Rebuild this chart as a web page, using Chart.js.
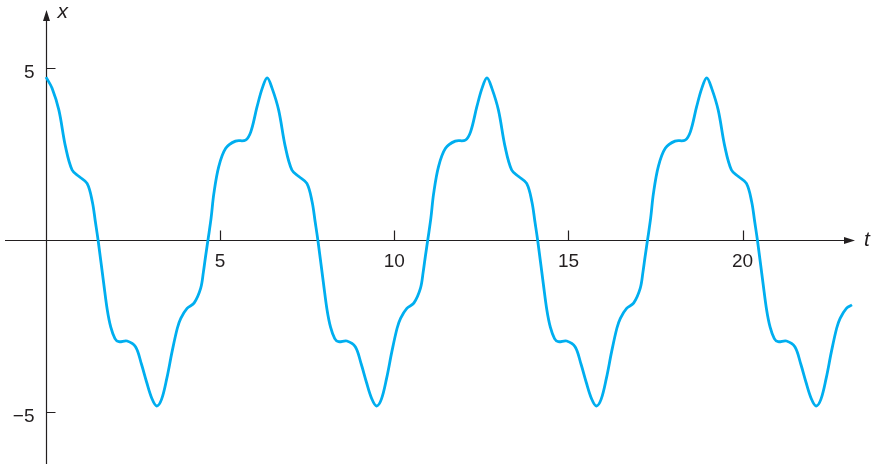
<!DOCTYPE html>
<html>
<head>
<meta charset="utf-8">
<script src="https://cdn.jsdelivr.net/npm/chart.js@4"></script>
<style>
  html, body { margin: 0; padding: 0; background: #fff; }
  canvas { display: block; }
</style>
</head>
<body>
<canvas id="chart" width="875" height="468"></canvas>
<script>
// Readings of the curve, one row per period
const tValues = [
    0, 0.175, 0.37, 0.56, 0.75, 0.95, 1.18, 1.33, 1.42, 1.50, 1.66, 1.76, 1.86, 1.98, 2.09, 2.33, 2.57, 2.74, 2.89, 3.04,
    3.18, 3.32, 3.47, 3.62, 3.77, 3.87, 4.05, 4.25, 4.44, 4.52, 4.58, 4.66, 4.74, 4.82, 4.96, 5.16, 5.44, 5.73, 5.88, 6.06, 6.21,
    6.35, 6.49, 6.68, 6.87, 7.06, 7.26, 7.49, 7.64, 7.73, 7.81, 7.97, 8.07, 8.17, 8.29, 8.40, 8.64, 8.88, 9.05, 9.20, 9.35,
    9.49, 9.63, 9.78, 9.93, 10.08, 10.18, 10.36, 10.56, 10.75, 10.83, 10.89, 10.97, 11.05, 11.13, 11.27, 11.47, 11.75, 12.04, 12.19, 12.37, 12.52,
    12.66, 12.80, 12.99, 13.18, 13.37, 13.57, 13.80, 13.95, 14.04, 14.12, 14.28, 14.38, 14.48, 14.60, 14.71, 14.95, 15.19, 15.36, 15.51, 15.66,
    15.80, 15.94, 16.09, 16.24, 16.39, 16.49, 16.67, 16.87, 17.06, 17.14, 17.20, 17.28, 17.36, 17.44, 17.58, 17.78, 18.06, 18.35, 18.50, 18.68, 18.83,
    18.97, 19.11, 19.30, 19.49, 19.68, 19.88, 20.11, 20.26, 20.35, 20.43, 20.59, 20.69, 20.79, 20.91, 21.02, 21.26, 21.50, 21.67, 21.82, 21.97,
    22.11, 22.25, 22.40, 22.55, 22.70, 22.80, 22.98, 23.14
];
const xValues = [
    4.72, 4.40, 3.76, 2.70, 2.02, 1.83, 1.63, 1.10, 0.50, -0.05, -1.30, -2.05, -2.55, -2.88, -2.97, -2.95, -3.12, -3.62, -4.15, -4.62,
    -4.84, -4.64, -4.03, -3.26, -2.58, -2.29, -2.00, -1.85, -1.42, -0.94, -0.50, 0.05, 0.62, 1.34, 2.12, 2.65, 2.86, 2.89, 3.13, 3.86, 4.40,
    4.70, 4.40, 3.76, 2.70, 2.02, 1.83, 1.63, 1.10, 0.50, -0.05, -1.30, -2.05, -2.55, -2.88, -2.97, -2.95, -3.12, -3.62, -4.15, -4.62,
    -4.84, -4.64, -4.03, -3.26, -2.58, -2.29, -2.00, -1.85, -1.42, -0.94, -0.50, 0.05, 0.62, 1.34, 2.12, 2.65, 2.86, 2.89, 3.13, 3.86, 4.40,
    4.70, 4.40, 3.76, 2.70, 2.02, 1.83, 1.63, 1.10, 0.50, -0.05, -1.30, -2.05, -2.55, -2.88, -2.97, -2.95, -3.12, -3.62, -4.15, -4.62,
    -4.84, -4.64, -4.03, -3.26, -2.58, -2.29, -2.00, -1.85, -1.42, -0.94, -0.50, 0.05, 0.62, 1.34, 2.12, 2.65, 2.86, 2.89, 3.13, 3.86, 4.40,
    4.70, 4.40, 3.76, 2.70, 2.02, 1.83, 1.63, 1.10, 0.50, -0.05, -1.30, -2.05, -2.55, -2.88, -2.97, -2.95, -3.12, -3.62, -4.15, -4.62,
    -4.84, -4.64, -4.03, -3.26, -2.58, -2.29, -2.00, -1.90
];
const tTicks = [5, 10, 15, 20];
const xTicks = [-5, 5];

const axisColor = '#231f20';
const curveColor = '#00aeef';

// minus sign as in the print, not a hyphen
const formatTick = (v) => (v < 0 ? '\u2212' + Math.abs(v) : String(v));

// Axes through the origin with arrowheads, ticks on the inner side
const axesPlugin = {
    id: 'arrowAxes',
    beforeDatasetsDraw(chart) {
        const { ctx, chartArea: area, scales } = chart;
        const xs = scales.x;
        const ys = scales.y;
        const ox = Math.round(xs.getPixelForValue(0)) + 0.5;
        const oy = Math.round(ys.getPixelForValue(0)) + 0.5;

        ctx.save();
        ctx.strokeStyle = axisColor;
        ctx.fillStyle = axisColor;
        ctx.lineWidth = 1.2;

        ctx.beginPath();
        ctx.moveTo(area.left, oy);
        ctx.lineTo(area.right - 6, oy);
        ctx.moveTo(ox, area.bottom);
        ctx.lineTo(ox, area.top + 6);
        ctx.stroke();

        ctx.beginPath();
        ctx.moveTo(area.right, oy);
        ctx.lineTo(area.right - 11, oy - 3.5);
        ctx.lineTo(area.right - 11, oy + 3.5);
        ctx.closePath();
        ctx.moveTo(ox, area.top);
        ctx.lineTo(ox - 3.5, area.top + 11);
        ctx.lineTo(ox + 3.5, area.top + 11);
        ctx.closePath();
        ctx.fill();

        ctx.beginPath();
        tTicks.forEach((v) => {
            const px = Math.round(xs.getPixelForValue(v)) + 0.5;
            ctx.moveTo(px, oy);
            ctx.lineTo(px, oy - 10);
        });
        xTicks.forEach((v) => {
            const py = Math.round(ys.getPixelForValue(v)) + 0.5;
            ctx.moveTo(ox, py);
            ctx.lineTo(ox + 9, py);
        });
        ctx.stroke();

        ctx.font = '19px "Liberation Sans", Arial, sans-serif';
        ctx.textBaseline = 'alphabetic';
        ctx.textAlign = 'center';
        tTicks.forEach((v) => ctx.fillText(formatTick(v), xs.getPixelForValue(v), oy + 26));
        ctx.textAlign = 'right';
        xTicks.forEach((v) => ctx.fillText(formatTick(v), ox - 12, ys.getPixelForValue(v) + 10.5));

        ctx.font = 'italic 21px "Liberation Sans", Arial, sans-serif';
        ctx.textAlign = 'left';
        ctx.fillText('x', ox + 11, area.top + 8);
        ctx.fillText('t', area.right + 9, oy + 5);
        ctx.restore();
    }
};

const ctx = document.getElementById('chart').getContext('2d');
new Chart(ctx, {
    type: 'line',
    data: {
        datasets: [{
            data: tValues.map((t, i) => ({ x: t, y: xValues[i] })),
            borderColor: curveColor,
            borderWidth: 2.8,
            pointRadius: 0,
            fill: false,
            tension: 0.35
        }]
    },
    options: {
        responsive: false,
        animation: false,
        devicePixelRatio: 1,
        layout: { padding: { left: 5, right: 20, top: 10, bottom: 4 } },
        plugins: { legend: { display: false }, tooltip: { enabled: false } },
        scales: {
            x: { type: 'linear', min: -1.177, max: 23.227, display: false },
            y: { type: 'linear', min: -6.526, max: 6.672, display: false }
        }
    },
    plugins: [axesPlugin]
});
</script>
</body>
</html>
